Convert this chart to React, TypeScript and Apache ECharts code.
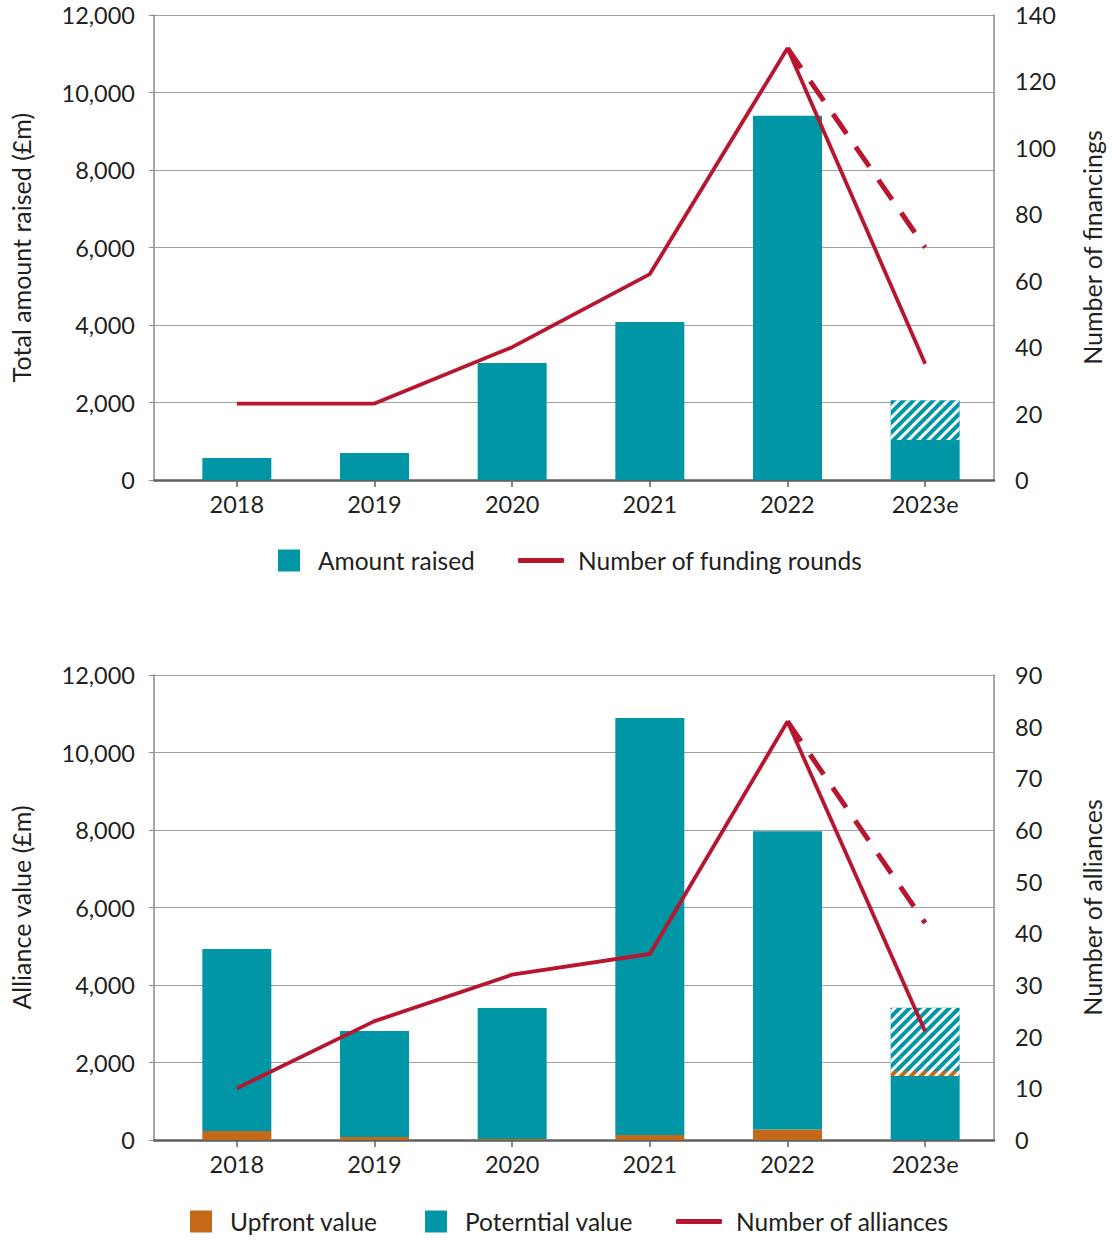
import React, { useEffect, useRef } from "react";
import * as echarts from "echarts";

const years = ["2018", "2019", "2020", "2021", "2022", "2023e"];

// Chart 1
const amountRaised = [570, 700, 3020, 4080, 9400, 1030];
const amountRaisedEstimate = [null, null, null, null, null, 1030];
const fundingRounds = [23, 23, 40, 62, 130, 35];
const fundingRoundsEstimate = [null, null, null, null, 130, 70];

// Chart 2
const upfrontValue = [230, 80, 25, 130, 270, 0];
const potentialValue = [4700, 2730, 3380, 10760, 7700, 1650];
const upfrontEstimate = [null, null, null, null, null, 130];
const potentialEstimate = [null, null, null, null, null, 1630];
const alliances = [10, 23, 32, 36, 81, 21];
const alliancesEstimate = [null, null, null, null, 81, 42];

const TEAL = "#0096a5";
const ORANGE = "#c4691a";
const RED = "#b8162f";
const TEXT = "#231f20";
const FONT = "Lato";
const TICK_FS = 23.5;
const NAME_FS = 25;
const LEGEND_FS = 24.5;

const hatch = (color: string) => ({
  color,
  decal: {
    symbol: "rect",
    symbolSize: 1,
    dashArrayX: [1, 0],
    dashArrayY: [2.5, 4],
    rotation: -Math.PI / 4,
    color: "#ffffff",
  },
});

function buildPanel(
  idx: number,
  top: number,
  leftName: string,
  rightName: string,
  rightMax: number,
  rightInterval: number
) {
  const gA = idx * 2;
  const gB = idx * 2 + 1;
  const grids = [
    { left: 149, right: 112, top, height: 465, containLabel: false },
    { left: 168, right: 118, top, height: 465, containLabel: false },
  ];
  const xAxes = [
    {
      gridIndex: gA,
      type: "value",
      min: 0,
      max: 1,
      axisLine: { show: true, onZero: false, lineStyle: { color: "#5f5f5f", width: 2.5 } },
      axisTick: { show: false },
      axisLabel: { show: false },
      splitLine: { show: false },
    },
    {
      gridIndex: gB,
      type: "category",
      data: years,
      axisLine: { show: false },
      axisTick: { show: true, alignWithLabel: true, length: 7, lineStyle: { color: "#5f5f5f", width: 1.5 } },
      axisLabel: { fontSize: TICK_FS, color: TEXT, fontFamily: FONT, margin: 12 },
    },
  ];
  const yAxes = [
    {
      gridIndex: gA,
      type: "value",
      min: 0,
      max: 12000,
      interval: 2000,
      position: "left",
      name: leftName,
      nameLocation: "middle",
      nameRotate: 90,
      nameGap: 121,
      nameTextStyle: { fontSize: NAME_FS, color: TEXT, fontFamily: FONT },
      axisLine: { show: true, lineStyle: { color: "#8a8a8a", width: 1.5 } },
      axisTick: { show: true, length: 5, lineStyle: { color: "#8a8a8a", width: 1 } },
      axisLabel: {
        fontSize: TICK_FS,
        color: TEXT,
        fontFamily: FONT,
        margin: 19,
        formatter: (v: number) => v.toLocaleString("en-US"),
      },
      splitLine: { show: true, lineStyle: { color: "#a0a0a0", width: 1 } },
    },
    {
      gridIndex: gA,
      type: "value",
      min: 0,
      max: rightMax,
      interval: rightInterval,
      position: "right",
      name: rightName,
      nameLocation: "middle",
      nameRotate: 90,
      nameGap: 85,
      nameTextStyle: { fontSize: NAME_FS, color: TEXT, fontFamily: FONT },
      axisLine: { show: true, lineStyle: { color: "#8a8a8a", width: 1.5 } },
      axisTick: { show: false },
      axisLabel: { fontSize: TICK_FS, color: TEXT, fontFamily: FONT, margin: 21 },
      splitLine: { show: false },
    },
    {
      gridIndex: gB,
      type: "value",
      min: 0,
      max: 12000,
      interval: 2000,
      show: false,
    },
    {
      gridIndex: gB,
      type: "value",
      min: 0,
      max: rightMax,
      interval: rightInterval,
      show: false,
    },
  ];
  return { grids, xAxes, yAxes };
}

export default function App() {
  const ref = useRef<HTMLDivElement>(null);
  useEffect(() => {
    if (!ref.current) return;
    const chart = echarts.init(ref.current, undefined, { renderer: "svg" });
    const p1 = buildPanel(0, 15, "Total amount raised (£m)", "Number of financings", 140, 20);
    const p2 = buildPanel(1, 675, "Alliance value (£m)", "Number of alliances", 90, 10);

    const boxText = { fontSize: LEGEND_FS, color: TEXT, fontFamily: FONT, padding: [0, 0, 0, 13] };
    const lineText = { fontSize: LEGEND_FS, color: TEXT, fontFamily: FONT, padding: [0, 0, 0, 9] };
    const top1 = 543;
    const top2 = 1204;
    const dashed = { color: RED, width: 5, type: [24, 16] };

    chart.setOption({
      animation: false,
      backgroundColor: "#ffffff",
      textStyle: { fontFamily: FONT },
      grid: [...p1.grids, ...p2.grids],
      xAxis: [...p1.xAxes, ...p2.xAxes],
      yAxis: [...p1.yAxes, ...p2.yAxes],
      legend: [
        {
          data: ["Amount raised"],
          left: 273,
          top: top1,
          itemWidth: 22,
          itemHeight: 22,
          icon: "rect",
          textStyle: boxText,
        },
        {
          data: ["Number of funding rounds"],
          left: 513,
          top: top1,
          itemWidth: 46,
          itemHeight: 5,
          icon: "roundRect",
          textStyle: lineText,
        },
        {
          data: ["Upfront value"],
          left: 185,
          top: top2,
          itemWidth: 22,
          itemHeight: 22,
          icon: "rect",
          textStyle: boxText,
        },
        {
          data: ["Poterntial value"],
          left: 420,
          top: top2,
          itemWidth: 22,
          itemHeight: 22,
          icon: "rect",
          textStyle: boxText,
        },
        {
          data: ["Number of alliances"],
          left: 671,
          top: top2,
          itemWidth: 46,
          itemHeight: 5,
          icon: "roundRect",
          textStyle: lineText,
        },
      ],
      series: [
        {
          name: "Amount raised",
          type: "bar",
          xAxisIndex: 1,
          yAxisIndex: 2,
          stack: "a",
          barWidth: 69,
          data: amountRaised,
          itemStyle: { color: TEAL },
        },
        {
          name: "Amount raised (estimate)",
          type: "bar",
          xAxisIndex: 1,
          yAxisIndex: 2,
          stack: "a",
          barWidth: 69,
          data: amountRaisedEstimate,
          itemStyle: hatch(TEAL),
        },
        {
          name: "Number of funding rounds",
          type: "line",
          xAxisIndex: 1,
          yAxisIndex: 3,
          data: fundingRounds,
          symbol: "none",
          itemStyle: { color: RED },
          lineStyle: { color: RED, width: 3.8 },
          z: 5,
        },
        {
          name: "Number of funding rounds (estimate)",
          type: "line",
          xAxisIndex: 1,
          yAxisIndex: 3,
          data: fundingRoundsEstimate,
          symbol: "none",
          itemStyle: { color: RED },
          lineStyle: dashed,
          z: 5,
        },
        {
          name: "Upfront value",
          type: "bar",
          xAxisIndex: 3,
          yAxisIndex: 6,
          stack: "b",
          barWidth: 69,
          data: upfrontValue,
          itemStyle: { color: ORANGE },
        },
        {
          name: "Poterntial value",
          type: "bar",
          xAxisIndex: 3,
          yAxisIndex: 6,
          stack: "b",
          barWidth: 69,
          data: potentialValue,
          itemStyle: { color: TEAL },
        },
        {
          name: "Upfront value (estimate)",
          type: "bar",
          xAxisIndex: 3,
          yAxisIndex: 6,
          stack: "b",
          barWidth: 69,
          data: upfrontEstimate,
          itemStyle: hatch(ORANGE),
        },
        {
          name: "Potential value (estimate)",
          type: "bar",
          xAxisIndex: 3,
          yAxisIndex: 6,
          stack: "b",
          barWidth: 69,
          data: potentialEstimate,
          itemStyle: hatch(TEAL),
        },
        {
          name: "Number of alliances",
          type: "line",
          xAxisIndex: 3,
          yAxisIndex: 7,
          data: alliances,
          symbol: "none",
          itemStyle: { color: RED },
          lineStyle: { color: RED, width: 3.8 },
          z: 5,
        },
        {
          name: "Number of alliances (estimate)",
          type: "line",
          xAxisIndex: 3,
          yAxisIndex: 7,
          data: alliancesEstimate,
          symbol: "none",
          itemStyle: { color: RED },
          lineStyle: dashed,
          z: 5,
        },
      ],
    });
    return () => chart.dispose();
  }, []);
  return (
    <div
      ref={ref}
      style={{ position: "absolute", left: 0, top: 0, width: 1112, height: 1240 }}
    />
  );
}
